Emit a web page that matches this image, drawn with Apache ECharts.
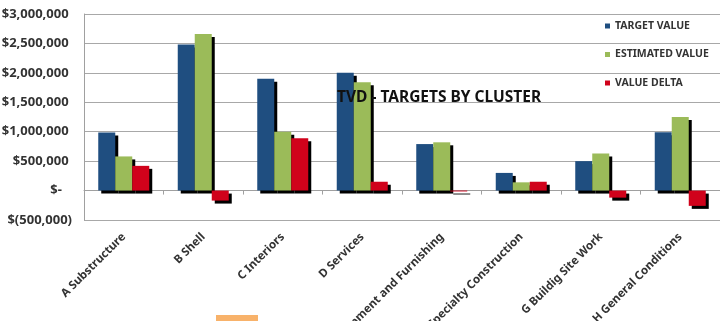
<!DOCTYPE html>
<html>
<head>
<meta charset="utf-8">
<script src="https://cdn.jsdelivr.net/npm/echarts@6/dist/echarts.min.js"></script>
<style>
html,body{margin:0;padding:0;background:#fff;}
#chart{width:720px;height:321px;}
</style>
</head>
<body>
<div id="chart"></div>
<script>
const categories = ['A Substructure', 'B Shell', 'C Interiors', 'D Services', 'E Equipment and Furnishing', 'F Specialty Construction', 'G Buildig Site Work', 'H General Conditions'];
const targetValue = [985000, 2480000, 1900000, 2000000, 790000, 300000, 500000, 990000];
const estimatedValue = [580000, 2660000, 1000000, 1840000, 820000, 140000, 630000, 1250000];
const valueDelta = [420000, -170000, 890000, 150000, -15000, 150000, -120000, -260000];
const seriesNames = ['TARGET VALUE', 'ESTIMATED VALUE', 'VALUE DELTA'];
const colors = ['#1F4E80', '#9BBB59', '#D0021B'];
const yMin = -500000, yMax = 3000000, yStep = 500000;

function fmt(v) {
  if (v === 0) return '$-   ';
  const s = Math.abs(v).toLocaleString('en-US');
  return v < 0 ? '$(' + s + ')' : '$' + s + ' ';
}

const FONT = '"Noto Sans", sans-serif';
const chart = echarts.init(document.getElementById('chart'), null, {renderer: 'canvas'});
const shadow = {shadowColor: '#000', shadowBlur: 0, shadowOffsetX: 3, shadowOffsetY: 3};
const datasets = [targetValue, estimatedValue, valueDelta];

chart.setOption({
  animation: false,
  backgroundColor: '#fff',
  title: {
    text: 'TVD - TARGETS BY CLUSTER',
    left: 332, top: 85,
    textStyle: {fontFamily: FONT, fontWeight: 'bold', fontSize: 15.5, color: '#111'}
  },
  legend: {
    orient: 'vertical',
    left: 600, top: 14,
    itemWidth: 5, itemHeight: 5,
    itemGap: 14.5,
    icon: 'rect',
    data: seriesNames,
    itemStyle: {shadowBlur: 0, shadowOffsetX: 0, shadowOffsetY: 0, shadowColor: 'transparent'},
    textStyle: {fontFamily: FONT, fontWeight: 'bold', fontSize: 10.5, color: '#333', lineHeight: 14}
  },
  grid: {left: 84, right: 0, top: 14, bottom: 101, containLabel: false, outerBoundsMode: 'none'},
  xAxis: {
    type: 'category',
    data: categories,
    axisLine: {onZero: true, lineStyle: {color: '#a0a0a0', width: 1}},
    axisTick: {show: true, length: 4, lineStyle: {color: '#a0a0a0'}},
    axisLabel: {interval: 0, rotate: 45, margin: 15, fontFamily: FONT, fontWeight: 'bold', fontSize: 11.5, color: '#333'},
    splitLine: {show: false}
  },
  yAxis: {
    type: 'value',
    min: yMin, max: yMax, interval: yStep,
    axisLine: {show: true, lineStyle: {color: '#a0a0a0'}},
    axisTick: {show: false},
    axisLabel: {formatter: fmt, margin: 12, fontFamily: FONT, fontWeight: 'bold', fontSize: 13, color: '#333'},
    splitLine: {lineStyle: {color: '#a8a8a8', width: 1}}
  },
  series: seriesNames.map((name, i) => ({
    name: name,
    type: 'bar',
    data: datasets[i],
    barWidth: 17,
    barGap: '0%',
    itemStyle: Object.assign({color: colors[i]}, shadow)
  })),
  graphic: [{
    type: 'rect',
    shape: {x: 216, y: 315, width: 42, height: 6},
    style: {fill: '#F8B26A'}
  }]
});
</script>
</body>
</html>
